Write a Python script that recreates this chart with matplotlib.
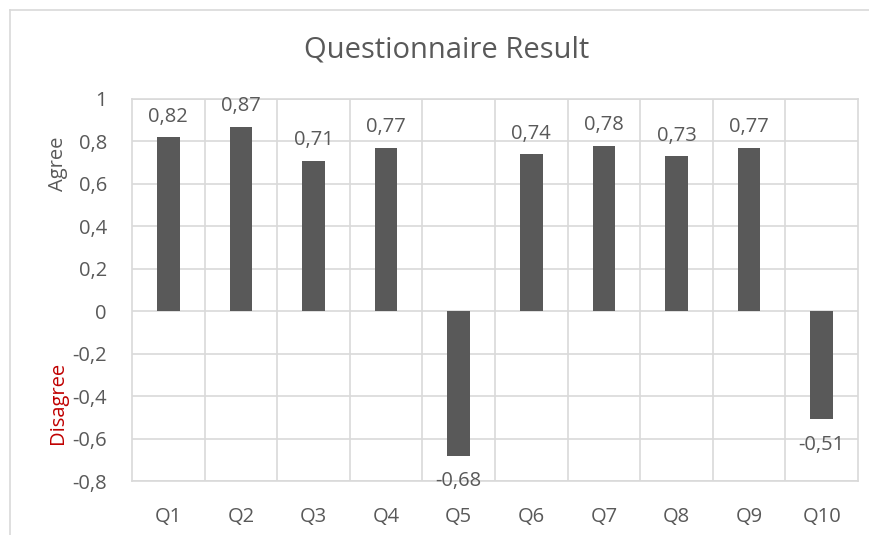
import matplotlib
matplotlib.use("Agg")
import matplotlib.pyplot as plt
from matplotlib.lines import Line2D
from matplotlib.ticker import FixedLocator, FuncFormatter

# Mean answer per question (positive = agree, negative = disagree)
questions = ["Q1", "Q2", "Q3", "Q4", "Q5", "Q6", "Q7", "Q8", "Q9", "Q10"]
scores = [0.82, 0.87, 0.71, 0.77, -0.68, 0.74, 0.78, 0.73, 0.77, -0.51]
y_ticks = [1.0, 0.8, 0.6, 0.4, 0.2, 0.0, -0.2, -0.4, -0.6, -0.8]

TEXT = "#595959"
BAR = "#595959"
GRID = "#d9d9d9"
RED = "#c00000"
FS = 14.5

plt.rcParams["font.family"] = ["Open Sans", "DejaVu Sans"]

W, H = 870, 535
fig = plt.figure(figsize=(W / 100, H / 100), dpi=100)

# plot area in pixel coordinates
left, right, top, bottom = 132, 858, 99, 481
ax = fig.add_axes([left / W, 1 - bottom / H, (right - left) / W, (bottom - top) / H])

x = list(range(len(questions)))
ax.bar(x, scores, width=0.31, color=BAR, zorder=3)

ax.set_xlim(-0.5, len(questions) - 0.5)
ax.set_ylim(-0.8, 1.0)

# horizontal grid at tick values, vertical grid between categories
ax.yaxis.set_major_locator(FixedLocator(y_ticks))
ax.yaxis.set_major_formatter(FuncFormatter(lambda v, _: f"{v:g}".replace(".", ",")))
ax.grid(axis="y", color=GRID, linewidth=1.2, zorder=0)
for b in range(1, len(questions)):
    ax.axvline(b - 0.5, color=GRID, linewidth=1.2, zorder=0)

for s in ax.spines.values():
    s.set_color(GRID)
    s.set_linewidth(1.2)

ax.set_xticks(x)
ax.set_xticklabels(questions)
ax.tick_params(axis="both", length=0, colors=TEXT, labelsize=FS)
ax.tick_params(axis="x", pad=19)
ax.tick_params(axis="y", pad=18)

for xi, v in zip(x, scores):
    label = f"{v:.2f}".replace(".", ",")
    if v >= 0:
        ax.annotate(label, (xi, v), xytext=(0, 7.5), textcoords="offset points",
                    ha="center", va="bottom", color=TEXT, fontsize=FS)
    else:
        ax.annotate(label, (xi, v), xytext=(0, -11), textcoords="offset points",
                    ha="center", va="top", color=TEXT, fontsize=FS)

fig.text(447 / W, 1 - 50 / H, "Questionnaire Result", ha="center", va="center",
         color=TEXT, fontsize=21)
fig.text(58 / W, 1 - 164 / H, "Agree", rotation=90, ha="center", va="center",
         color=TEXT, fontsize=FS)
fig.text(58 / W, 1 - 403 / H, "Disagree", rotation=90, ha="center", va="center",
         color=RED, fontsize=FS)

# chart frame (top and left edges visible)
fig.add_artist(Line2D([10 / W, 1], [1 - 10 / H, 1 - 10 / H], color=GRID, linewidth=1.2,
                      transform=fig.transFigure))
fig.add_artist(Line2D([10 / W, 10 / W], [0, 1 - 10 / H], color=GRID, linewidth=1.2,
                      transform=fig.transFigure))

fig.savefig("out.png", dpi=100, facecolor="white")
